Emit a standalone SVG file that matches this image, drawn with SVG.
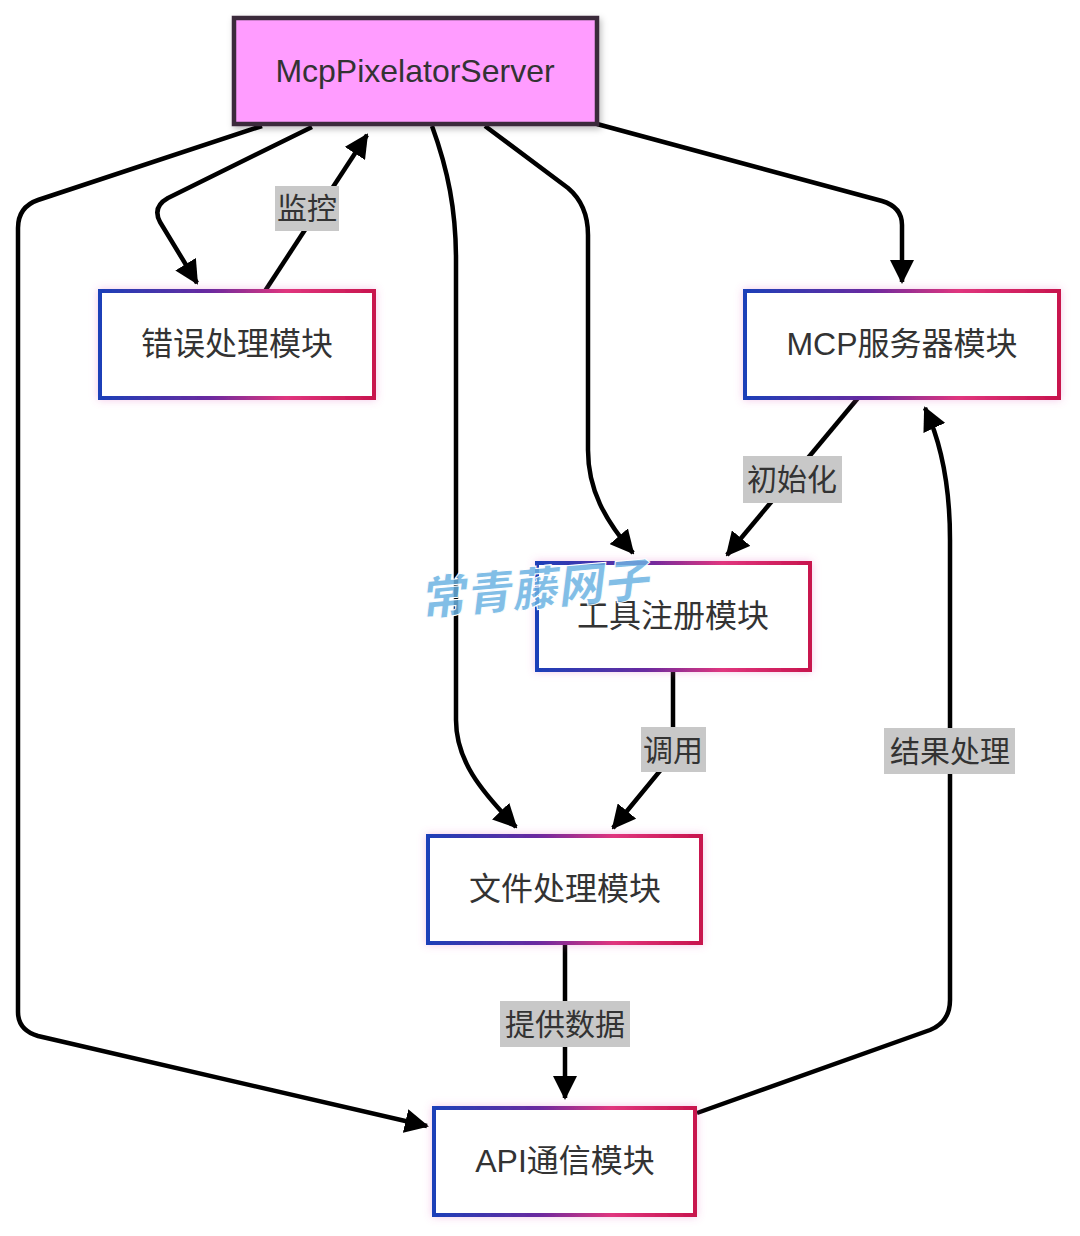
<svg xmlns="http://www.w3.org/2000/svg" width="1080" height="1236" viewBox="0 0 1080 1236">
<defs>
<linearGradient id="bd" x1="0" y1="0" x2="1" y2="0">
<stop offset="0" stop-color="#1c3fb8"/>
<stop offset="0.4" stop-color="#6a2aa0"/>
<stop offset="0.68" stop-color="#e0357e"/>
<stop offset="1" stop-color="#c8154e"/>
</linearGradient>
<filter id="glow" x="-10%" y="-20%" width="120%" height="140%">
<feGaussianBlur in="SourceAlpha" stdDeviation="4" result="b"/>
<feFlood flood-color="#e060c0" flood-opacity="0.35"/>
<feComposite in2="b" operator="in" result="g"/>
<feMerge><feMergeNode in="g"/><feMergeNode in="SourceGraphic"/></feMerge>
</filter>
<filter id="shadow" x="-10%" y="-20%" width="120%" height="140%">
<feDropShadow dx="2" dy="3" stdDeviation="3" flood-color="#000" flood-opacity="0.25"/>
</filter>
<marker id="ah" viewBox="0 0 24 24" markerWidth="24" markerHeight="24" refX="22" refY="12" orient="auto" markerUnits="userSpaceOnUse">
<path d="M0,0 L24,12 L0,24 z" fill="#000"/>
</marker>
</defs>
<style>
.node{fill:#fff;stroke:url(#bd);stroke-width:4}
.t{font-family:"Liberation Sans","Noto Sans CJK SC",sans-serif;font-size:32px;fill:#333;text-anchor:middle;dominant-baseline:central}
.e{fill:none;stroke:#000;stroke-width:4.5;stroke-linejoin:round;marker-end:url(#ah)}
.lb{fill:#c8c8c8}
.lt{font-family:"Liberation Sans","Noto Sans CJK SC",sans-serif;font-size:30px;fill:#333;text-anchor:middle;dominant-baseline:central}
</style>
<rect width="1080" height="1236" fill="#fff"/>
<g id="connectors">
<path class="e" d="M262,126 L38,200 Q18,207 18,228 L18,1012 Q18,1030 38,1036 L427,1126"/>
<path class="e" d="M312,127 L168,198 Q152,207 160,222 L197,283"/>
<path class="e" d="M265,291 L367,135"/>
<path class="e" d="M432,126 C448,170 456,210 456,260 L456,720 C456,760 480,790 516,827"/>
<path class="e" d="M485,126 L568,188 Q588,205 588,235 L588,450 C588,490 605,520 633,553"/>
<path class="e" d="M597,124 L882,201 Q902,207 902,225 L902,282"/>
<path class="e" d="M858,398 L727,555"/>
<path class="e" d="M673,670 L673,755 L613,828"/>
<path class="e" d="M565,943 L565,1098"/>
<path class="e" d="M697,1113 L930,1030 Q950,1022 950,1000 L950,540 C950,480 940,440 925,408"/>
<g id="edge-labels">
<rect class="lb" x="275" y="186" width="64" height="45"/>
<text class="lt" x="307" y="208">监控</text>
<rect class="lb" x="743" y="456" width="99" height="47"/>
<text class="lt" x="792" y="479">初始化</text>
<rect class="lb" x="641" y="727" width="65" height="45"/>
<text class="lt" x="673" y="750">调用</text>
<rect class="lb" x="500" y="1001" width="130" height="46"/>
<text class="lt" x="565" y="1024">提供数据</text>
<rect class="lb" x="884" y="728" width="131" height="46"/>
<text class="lt" x="950" y="751">结果处理</text>
</g>
</g>
<g id="n-server">
<rect x="234" y="18" width="363" height="106" fill="#ff9cff" stroke="#3b2a3b" stroke-width="4.5" filter="url(#shadow)"/>
<text class="t" x="415" y="71" fill="#3a223a">McpPixelatorServer</text>
</g>
<g id="n-error">
<rect class="node" x="100" y="291" width="274" height="107" filter="url(#glow)"/>
<text class="t" x="237" y="344">错误处理模块</text>
</g>
<g id="n-mcp">
<rect class="node" x="745" y="291" width="314" height="107" filter="url(#glow)"/>
<text class="t" x="902" y="344">MCP服务器模块</text>
</g>
<g id="n-tool">
<rect class="node" x="537" y="563" width="273" height="107" filter="url(#glow)"/>
<text class="t" x="673" y="616">工具注册模块</text>
</g>
<g id="n-file">
<rect class="node" x="428" y="836" width="273" height="107" filter="url(#glow)"/>
<text class="t" x="565" y="889">文件处理模块</text>
</g>
<g id="n-api">
<rect class="node" x="434" y="1108" width="261" height="107" filter="url(#glow)"/>
<text class="t" x="565" y="1161">API通信模块</text>
</g>
<g id="watermark" transform="translate(538 585) rotate(-5) skewX(-12)">
<text x="0" y="0" font-family="'Noto Sans CJK SC',sans-serif" font-size="46" font-weight="900" fill="#6cb2e2" fill-opacity="0.85" stroke="#fff" stroke-width="1" text-anchor="middle" dominant-baseline="central">常青藤网子</text>
</g>
</svg>
